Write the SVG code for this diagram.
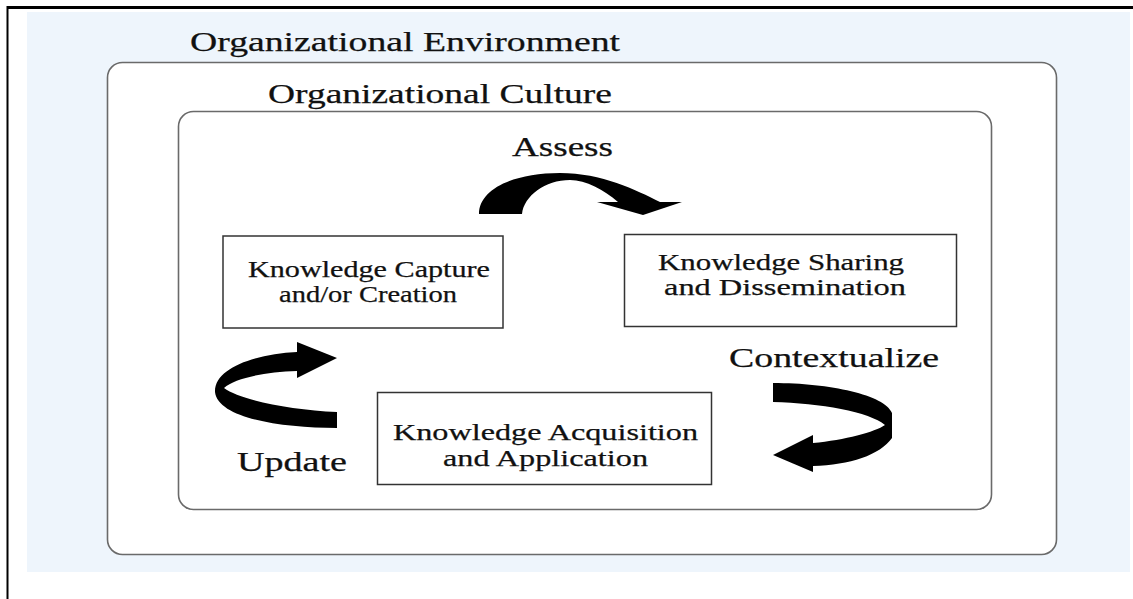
<svg xmlns="http://www.w3.org/2000/svg" width="1133" height="599" viewBox="0 0 1133 599">
<style>
.t{font-family:"Liberation Serif","Times New Roman",serif;fill:#111;stroke:#111;stroke-width:0.25;}
.big{font-size:27px;}
.bx{font-size:24px;}
.box{fill:#fff;stroke:#333;stroke-width:1.5;}
.frame{fill:#fff;stroke:#6a6a6a;stroke-width:1.6;}
.arr{fill:#000;stroke:none;}
</style>
<rect x="0" y="0" width="1133" height="599" fill="#fff"/>
<rect x="27" y="12" width="1103" height="560" fill="#eef5fc"/>
<line x1="7" y1="7.5" x2="1133" y2="7.5" stroke="#000" stroke-width="3"/>
<line x1="7.5" y1="6" x2="7.5" y2="599" stroke="#000" stroke-width="2"/>
<g id="environment">
<rect class="frame" x="107.5" y="62.5" width="949" height="492" rx="15" ry="15"/>
<text class="t big" x="190" y="51" textLength="430" lengthAdjust="spacingAndGlyphs">Organizational Environment</text>
</g>
<g id="culture">
<rect class="frame" x="178.5" y="111.5" width="813" height="398" rx="15" ry="15"/>
<text class="t big" x="268" y="103" textLength="344" lengthAdjust="spacingAndGlyphs">Organizational Culture</text>
</g>
<g id="capture">
<rect class="box" x="223" y="236" width="280" height="92"/>
<text class="t bx" x="248" y="277" textLength="242" lengthAdjust="spacingAndGlyphs">Knowledge Capture</text>
<text class="t bx" x="279" y="302" textLength="178" lengthAdjust="spacingAndGlyphs">and/or Creation</text>
</g>
<g id="sharing">
<rect class="box" x="624.5" y="234.5" width="332" height="92"/>
<text class="t bx" x="658" y="270" textLength="246" lengthAdjust="spacingAndGlyphs">Knowledge Sharing</text>
<text class="t bx" x="664" y="295" textLength="242" lengthAdjust="spacingAndGlyphs">and Dissemination</text>
</g>
<g id="acquisition">
<rect class="box" x="377.5" y="392.5" width="334" height="92"/>
<text class="t bx" x="393" y="440" textLength="305" lengthAdjust="spacingAndGlyphs">Knowledge Acquisition</text>
<text class="t bx" x="443" y="466" textLength="205" lengthAdjust="spacingAndGlyphs">and Application</text>
</g>
<g id="connectors">
<g id="assess">
<path class="arr" d="M479 214 C479 189 514 173 560 173 C602 173 636 190 660 202 L682 202 L643 215 L597 202 L618 202 C604 190 586 180 570 180 C545 180 524 196 522 214 Z"/>
<text class="t big" x="512" y="156" textLength="101" lengthAdjust="spacingAndGlyphs">Assess</text>
</g>
<g id="contextualize">
<path class="arr" d="M773 383 C830 383 885 395 892 413 L892 438 C880 455 850 465 813 466 L813 472 L773 455 L813 435 L813 443 C845 440 875 432 885 425 C870 412 820 403 773 402 Z"/>
<text class="t big" x="729" y="367" textLength="210" lengthAdjust="spacingAndGlyphs">Contextualize</text>
</g>
<g id="update">
<path class="arr" d="M297 352 L297 342 L337 358 L297 378 L297 371 C265 372 235 378 224 388 C240 400 290 410 337 412 L337 428 C280 428 218 418 215 392 C214 368 255 354 297 352 Z"/>
<text class="t big" x="237" y="471" textLength="110" lengthAdjust="spacingAndGlyphs">Update</text>
</g>
</g>
</svg>
